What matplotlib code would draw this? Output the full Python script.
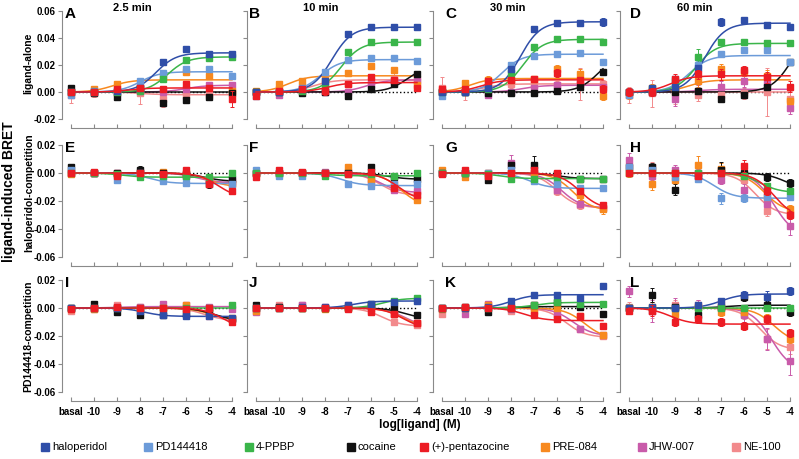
import numpy as np
import matplotlib
matplotlib.use("Agg")
import matplotlib.pyplot as plt
from matplotlib import font_manager

# font: narrow Arial-like if present
names = set(f.name for f in font_manager.fontManager.ttflist)
FAM = ['Liberation Sans Narrow'] if 'Liberation Sans Narrow' in names else ['Liberation Sans']
plt.rcParams['font.family'] = FAM + ['DejaVu Sans']

ligands = ['haloperidol', 'PD144418', '4-PPBP', 'cocaine', '(+)-pentazocine',
           'PRE-084', 'JHW-007', 'NE-100']
colors = ['#2F4EA8', '#6C9BD9', '#3AB54A', '#111111', '#EC1C24',
          '#F7891F', '#C95BAA', '#F28A8C']
xlabels = ['basal', '-10', '-9', '-8', '-7', '-6', '-5', '-4']
xpos = [-11, -10, -9, -8, -7, -6, -5, -4]
times = ['2.5 min', '10 min', '30 min', '60 min']
row_names = ['ligand-alone', 'haloperidol-competition', 'PD144418-competition']

# ---- means (rows: ligands in legend order; columns: basal,-10..-4) ----
mean_A = [[0.000, 0.000, 0.001, 0.003, 0.022, 0.032, 0.028, 0.028],
          [-0.002, 0.001, 0.001, 0.008, 0.014, 0.017, 0.017, 0.012],
          [0.000, 0.000, 0.000, 0.001, 0.010, 0.024, 0.025, 0.026],
          [0.003, -0.001, -0.004, 0.003, -0.008, -0.006, -0.004, -0.001],
          [0.000, 0.000, 0.002, 0.003, 0.002, 0.006, 0.003, -0.005],
          [0.000, 0.002, 0.006, 0.004, 0.011, 0.015, 0.012, 0.001],
          [0.001, 0.001, 0.000, 0.001, 0.000, 0.002, 0.005, 0.005],
          [-0.002, -0.001, -0.001, -0.001, -0.005, -0.002, -0.002, 0.000]]
mean_B = [[0.000, 0.000, 0.002, 0.008, 0.043, 0.048, 0.048, 0.048],
          [-0.003, 0.000, 0.003, 0.015, 0.024, 0.025, 0.025, 0.023],
          [0.000, 0.000, 0.001, 0.004, 0.030, 0.037, 0.037, 0.037],
          [0.000, 0.000, -0.001, 0.000, -0.003, 0.002, 0.006, 0.013],
          [-0.003, 0.001, 0.002, 0.001, 0.006, 0.011, 0.009, 0.003],
          [0.001, 0.006, 0.008, 0.009, 0.014, 0.019, 0.016, 0.005],
          [0.000, -0.002, 0.001, 0.000, 0.000, 0.006, 0.008, 0.008],
          [0.000, 0.002, 0.004, 0.006, 0.006, 0.008, 0.010, 0.010]]
mean_C = [[0.000, 0.000, 0.003, 0.017, 0.047, 0.051, 0.051, 0.052],
          [-0.003, 0.001, 0.004, 0.020, 0.027, 0.028, 0.029, 0.022],
          [0.000, 0.000, 0.002, 0.014, 0.033, 0.039, 0.039, 0.037],
          [0.000, 0.000, -0.001, -0.001, -0.001, 0.001, 0.004, 0.015],
          [0.002, 0.002, 0.008, 0.009, 0.010, 0.014, 0.009, 0.002],
          [0.001, 0.007, 0.009, 0.009, 0.010, 0.017, 0.013, -0.003],
          [0.000, 0.000, -0.002, 0.000, 0.003, 0.005, 0.006, 0.004],
          [0.003, 0.001, 0.005, 0.006, 0.005, 0.005, 0.006, 0.006]]
mean_D = [[0.000, 0.003, 0.004, 0.018, 0.052, 0.053, 0.050, 0.048],
          [-0.002, 0.001, 0.010, 0.020, 0.028, 0.031, 0.031, 0.022],
          [0.000, 0.002, 0.008, 0.026, 0.037, 0.037, 0.036, 0.036],
          [0.000, 0.000, 0.000, 0.001, -0.005, -0.002, 0.004, 0.022],
          [0.000, 0.000, 0.010, 0.013, 0.013, 0.016, 0.011, 0.004],
          [-0.002, 0.003, 0.003, 0.008, 0.017, 0.015, 0.012, -0.007],
          [0.000, 0.001, -0.005, 0.001, 0.004, 0.008, 0.007, -0.012],
          [-0.002, -0.001, -0.001, -0.002, -0.002, -0.001, 0.000, -0.005]]
mean_E = [None,
          [0.002, 0.000, -0.005, 0.000, -0.006, -0.007, -0.007, -0.008],
          [0.000, 0.000, -0.001, -0.003, -0.002, -0.002, -0.003, 0.000],
          [0.004, 0.000, 0.000, 0.002, 0.000, -0.001, -0.008, -0.004],
          [0.000, 0.001, -0.002, 0.000, -0.001, 0.002, -0.008, -0.013],
          [-0.001, 0.000, -0.001, 0.001, 0.001, 0.000, -0.005, -0.008],
          [0.000, 0.000, 0.000, 0.000, 0.000, -0.002, -0.005, -0.006],
          [0.000, 0.000, 0.000, 0.000, -0.001, -0.002, -0.004, -0.007]]
mean_F = [None,
          [0.002, -0.002, -0.002, 0.000, -0.008, -0.009, -0.008, -0.008],
          [0.000, 0.000, 0.000, -0.002, -0.001, -0.001, -0.002, 0.000],
          [0.000, 0.000, 0.000, 0.000, 0.000, 0.004, -0.003, -0.004],
          [-0.003, 0.002, 0.001, 0.000, -0.001, 0.001, -0.011, -0.016],
          [-0.001, -0.001, 0.000, 0.000, 0.004, -0.004, -0.008, -0.019],
          [0.000, 0.000, 0.000, 0.001, 0.001, -0.005, -0.012, -0.013],
          [0.000, 0.000, 0.000, 0.000, 0.000, -0.007, -0.011, -0.015]]
mean_G = [None,
          [0.000, 0.000, 0.000, 0.002, -0.006, -0.008, -0.011, -0.011],
          [0.000, 0.000, -0.001, -0.004, -0.004, -0.003, -0.004, -0.004],
          [0.000, 0.000, -0.005, 0.006, 0.006, -0.001, -0.004, -0.004],
          [-0.001, 0.002, -0.002, 0.000, 0.002, 0.000, -0.013, -0.023],
          [0.002, -0.003, 0.000, 0.000, 0.000, -0.007, -0.016, -0.026],
          [0.000, 0.000, 0.000, 0.007, 0.000, -0.012, -0.022, -0.025],
          [0.000, 0.000, -0.001, 0.000, 0.002, -0.013, -0.023, -0.025]]
mean_H = [None,
          [0.004, 0.002, -0.003, -0.004, -0.018, -0.018, -0.017, -0.017],
          [0.000, 0.000, 0.000, 0.000, 0.000, -0.002, -0.009, -0.013],
          [0.004, 0.004, -0.012, -0.002, 0.002, 0.000, -0.003, -0.007],
          [0.000, 0.000, 0.000, -0.002, 0.000, 0.005, -0.013, -0.030],
          [0.000, -0.008, -0.005, 0.006, 0.003, -0.002, -0.017, -0.026],
          [0.009, -0.002, 0.002, 0.000, -0.005, -0.012, -0.022, -0.038],
          [0.005, 0.004, 0.000, 0.000, 0.002, -0.005, -0.027, -0.029]]
mean_I = [[0.000, 0.000, 0.000, -0.002, -0.005, -0.006, -0.006, -0.007],
          None,
          [0.000, 0.000, 0.000, 0.000, 0.000, 0.000, 0.000, 0.002],
          [0.000, 0.003, -0.003, -0.005, -0.005, -0.004, -0.003, -0.008],
          [-0.001, 0.000, 0.001, 0.000, 0.000, -0.001, 0.000, -0.010],
          [-0.001, -0.001, 0.000, -0.001, 0.000, 0.002, -0.003, -0.007],
          [0.000, 0.000, 0.001, 0.001, 0.003, 0.002, 0.001, -0.001],
          [-0.002, -0.001, 0.002, 0.001, 0.000, 0.000, -0.006, -0.008]]
mean_J = [[0.000, 0.000, 0.001, 0.001, 0.002, 0.003, 0.004, 0.005],
          None,
          [0.000, 0.000, 0.000, 0.000, 0.000, 0.002, 0.005, 0.007],
          [0.002, 0.001, 0.000, 0.000, 0.001, 0.003, 0.000, -0.005],
          [0.000, 0.000, 0.000, 0.000, -0.001, -0.003, -0.004, -0.011],
          [-0.002, 0.000, 0.000, -0.001, 0.000, 0.002, -0.004, -0.011],
          [-0.003, 0.001, 0.002, 0.001, 0.002, 0.000, -0.004, -0.011],
          [-0.001, 0.002, 0.002, 0.000, 0.000, -0.002, -0.010, -0.012]]
mean_K = [[0.000, 0.000, 0.001, 0.005, 0.009, 0.009, 0.007, 0.016],
          None,
          [0.000, 0.000, 0.000, 0.001, 0.002, 0.004, 0.003, 0.003],
          [0.000, 0.001, -0.003, 0.000, 0.002, 0.004, 0.001, -0.004],
          [0.000, 0.001, 0.000, 0.000, -0.005, -0.008, -0.006, -0.013],
          [-0.001, 0.000, 0.002, 0.000, -0.002, 0.000, -0.006, -0.019],
          [-0.001, -0.004, 0.003, -0.001, 0.000, -0.004, -0.015, -0.019],
          [-0.004, 0.001, 0.002, -0.002, 0.002, -0.007, -0.015, -0.020]]
mean_L = [[0.000, 0.001, 0.000, 0.002, 0.005, 0.009, 0.008, 0.012],
          None,
          [0.000, 0.000, 0.000, 0.000, 0.000, 0.000, 0.000, 0.000],
          [0.000, 0.009, 0.001, -0.005, 0.001, 0.008, 0.002, -0.003],
          [-0.002, -0.002, -0.010, -0.008, -0.010, -0.013, -0.008, -0.018],
          [0.000, 0.001, -0.004, 0.001, -0.003, -0.003, -0.007, -0.022],
          [0.012, -0.002, 0.001, 0.001, 0.000, -0.005, -0.022, -0.038],
          [0.001, -0.002, 0.002, 0.002, 0.003, -0.004, -0.022, -0.028]]

# ---- error bars (same layout) ----
err_A = [[0.001, 0.001, 0.001, 0.001, 0.001, 0.002, 0.001, 0.001],
         [0.001, 0.001, 0.001, 0.001, 0.001, 0.001, 0.001, 0.001],
         [0.001, 0.001, 0.001, 0.001, 0.001, 0.001, 0.001, 0.001],
         [0.002, 0.002, 0.002, 0.001, 0.002, 0.002, 0.001, 0.001],
         [0.002, 0.001, 0.002, 0.002, 0.002, 0.002, 0.002, 0.006],
         [0.001, 0.001, 0.001, 0.001, 0.001, 0.001, 0.001, 0.001],
         [0.002, 0.001, 0.001, 0.001, 0.001, 0.001, 0.001, 0.001],
         [0.006, 0.003, 0.002, 0.008, 0.006, 0.004, 0.003, 0.004]]
err_B = [[0.001, 0.001, 0.001, 0.001, 0.002, 0.002, 0.002, 0.002],
         [0.001, 0.001, 0.001, 0.001, 0.001, 0.001, 0.001, 0.001],
         [0.001, 0.001, 0.001, 0.001, 0.001, 0.001, 0.001, 0.001],
         [0.001, 0.001, 0.001, 0.001, 0.001, 0.001, 0.001, 0.001],
         [0.002, 0.001, 0.001, 0.003, 0.002, 0.002, 0.002, 0.002],
         [0.001, 0.001, 0.001, 0.002, 0.001, 0.002, 0.002, 0.002],
         [0.001, 0.001, 0.001, 0.001, 0.001, 0.001, 0.001, 0.001],
         [0.002, 0.006, 0.003, 0.002, 0.002, 0.003, 0.004, 0.003]]
err_C = [[0.001, 0.001, 0.001, 0.002, 0.002, 0.002, 0.002, 0.003],
         [0.002, 0.001, 0.001, 0.001, 0.001, 0.001, 0.001, 0.001],
         [0.001, 0.001, 0.001, 0.001, 0.002, 0.002, 0.001, 0.001],
         [0.001, 0.001, 0.001, 0.001, 0.001, 0.001, 0.001, 0.001],
         [0.002, 0.002, 0.002, 0.002, 0.002, 0.003, 0.002, 0.003],
         [0.001, 0.002, 0.003, 0.002, 0.002, 0.003, 0.004, 0.003],
         [0.001, 0.001, 0.002, 0.001, 0.001, 0.001, 0.001, 0.001],
         [0.008, 0.007, 0.006, 0.003, 0.003, 0.003, 0.012, 0.003]]
err_D = [[0.002, 0.002, 0.002, 0.003, 0.003, 0.002, 0.002, 0.002],
         [0.002, 0.002, 0.002, 0.003, 0.002, 0.002, 0.002, 0.002],
         [0.002, 0.002, 0.002, 0.006, 0.002, 0.002, 0.002, 0.002],
         [0.002, 0.002, 0.002, 0.002, 0.002, 0.002, 0.002, 0.002],
         [0.003, 0.003, 0.003, 0.003, 0.004, 0.003, 0.004, 0.004],
         [0.003, 0.003, 0.003, 0.004, 0.004, 0.003, 0.004, 0.004],
         [0.003, 0.003, 0.005, 0.004, 0.004, 0.004, 0.004, 0.004],
         [0.006, 0.010, 0.008, 0.005, 0.004, 0.004, 0.018, 0.006]]
err_E = [None,
         [0.002, 0.001, 0.002, 0.001, 0.001, 0.001, 0.001, 0.001],
         [0.001, 0.001, 0.001, 0.001, 0.001, 0.001, 0.001, 0.001],
         [0.002, 0.001, 0.001, 0.003, 0.001, 0.001, 0.003, 0.002],
         [0.001, 0.001, 0.002, 0.001, 0.001, 0.002, 0.002, 0.001],
         [0.001, 0.001, 0.001, 0.002, 0.002, 0.001, 0.002, 0.002],
         [0.001, 0.001, 0.001, 0.001, 0.001, 0.001, 0.001, 0.001],
         [0.001, 0.001, 0.001, 0.001, 0.001, 0.001, 0.001, 0.001]]
err_F = [None,
         [0.001, 0.001, 0.001, 0.001, 0.001, 0.001, 0.001, 0.002],
         [0.001, 0.001, 0.001, 0.001, 0.001, 0.001, 0.001, 0.001],
         [0.001, 0.001, 0.001, 0.001, 0.001, 0.002, 0.001, 0.001],
         [0.002, 0.002, 0.001, 0.001, 0.001, 0.001, 0.002, 0.002],
         [0.001, 0.001, 0.001, 0.001, 0.002, 0.002, 0.002, 0.002],
         [0.001, 0.001, 0.001, 0.001, 0.001, 0.001, 0.002, 0.002],
         [0.001, 0.001, 0.001, 0.001, 0.001, 0.001, 0.002, 0.002]]
err_G = [None,
         [0.001, 0.001, 0.001, 0.002, 0.002, 0.002, 0.002, 0.002],
         [0.001, 0.001, 0.001, 0.002, 0.001, 0.001, 0.001, 0.001],
         [0.002, 0.002, 0.002, 0.003, 0.006, 0.002, 0.002, 0.002],
         [0.002, 0.002, 0.002, 0.002, 0.002, 0.002, 0.002, 0.002],
         [0.002, 0.002, 0.002, 0.002, 0.002, 0.002, 0.003, 0.003],
         [0.002, 0.002, 0.002, 0.006, 0.002, 0.003, 0.003, 0.003],
         [0.002, 0.002, 0.002, 0.002, 0.002, 0.003, 0.003, 0.003]]
err_H = [None,
         [0.002, 0.002, 0.003, 0.002, 0.004, 0.003, 0.003, 0.002],
         [0.002, 0.002, 0.002, 0.002, 0.002, 0.002, 0.002, 0.002],
         [0.003, 0.003, 0.004, 0.002, 0.006, 0.003, 0.003, 0.003],
         [0.002, 0.002, 0.002, 0.002, 0.002, 0.004, 0.003, 0.003],
         [0.003, 0.004, 0.006, 0.006, 0.004, 0.004, 0.004, 0.003],
         [0.005, 0.003, 0.004, 0.003, 0.003, 0.004, 0.005, 0.006],
         [0.004, 0.004, 0.004, 0.003, 0.003, 0.005, 0.004, 0.004]]
err_I = [[0.001, 0.001, 0.001, 0.001, 0.001, 0.001, 0.001, 0.001],
         None,
         [0.001, 0.001, 0.001, 0.001, 0.001, 0.001, 0.001, 0.001],
         [0.001, 0.001, 0.001, 0.001, 0.001, 0.001, 0.001, 0.001],
         [0.001, 0.001, 0.001, 0.001, 0.001, 0.001, 0.001, 0.001],
         [0.001, 0.001, 0.001, 0.001, 0.001, 0.002, 0.001, 0.001],
         [0.002, 0.001, 0.001, 0.001, 0.002, 0.001, 0.001, 0.002],
         [0.002, 0.002, 0.002, 0.001, 0.001, 0.001, 0.002, 0.001]]
err_J = [[0.001, 0.001, 0.001, 0.001, 0.001, 0.001, 0.001, 0.001],
         None,
         [0.001, 0.001, 0.001, 0.001, 0.001, 0.001, 0.001, 0.001],
         [0.001, 0.001, 0.001, 0.001, 0.001, 0.001, 0.001, 0.001],
         [0.001, 0.001, 0.001, 0.001, 0.001, 0.001, 0.001, 0.001],
         [0.001, 0.001, 0.001, 0.001, 0.001, 0.001, 0.001, 0.001],
         [0.001, 0.001, 0.001, 0.001, 0.001, 0.001, 0.001, 0.001],
         [0.001, 0.002, 0.002, 0.001, 0.001, 0.001, 0.001, 0.001]]
err_K = [[0.001, 0.001, 0.001, 0.002, 0.002, 0.002, 0.002, 0.002],
         None,
         [0.001, 0.001, 0.001, 0.001, 0.001, 0.001, 0.001, 0.001],
         [0.001, 0.002, 0.001, 0.001, 0.001, 0.001, 0.002, 0.002],
         [0.001, 0.002, 0.001, 0.001, 0.002, 0.002, 0.002, 0.002],
         [0.001, 0.001, 0.002, 0.001, 0.001, 0.001, 0.002, 0.002],
         [0.002, 0.002, 0.002, 0.002, 0.002, 0.002, 0.002, 0.002],
         [0.002, 0.002, 0.002, 0.002, 0.002, 0.002, 0.002, 0.002]]
err_L = [[0.002, 0.002, 0.002, 0.002, 0.002, 0.003, 0.004, 0.003],
         None,
         [0.001, 0.001, 0.001, 0.001, 0.001, 0.001, 0.001, 0.001],
         [0.003, 0.005, 0.003, 0.003, 0.003, 0.003, 0.003, 0.003],
         [0.002, 0.004, 0.003, 0.003, 0.003, 0.003, 0.003, 0.003],
         [0.002, 0.003, 0.003, 0.003, 0.003, 0.003, 0.003, 0.003],
         [0.004, 0.008, 0.006, 0.005, 0.005, 0.005, 0.008, 0.010],
         [0.003, 0.005, 0.004, 0.004, 0.004, 0.004, 0.007, 0.005]]

# ---- fitted curves: (top, logEC50), bottom 0, Hill slope 1 ----
fit_A = [(0.029, -7.3), (0.015, -8.0), (0.026, -6.8), (0.0, -7.0),
         (0.003, -8.5), (0.009, -9.2), (0.005, -6.0), (-0.002, -8.0)]
fit_B = [(0.048, -7.7), (0.024, -8.2), (0.037, -7.3), (0.020, -4.4),
         (0.007, -7.9), (0.012, -9.6), (0.009, -6.2), (0.009, -8.5)]
fit_C = [(0.052, -7.6), (0.028, -8.4), (0.039, -7.5), (0.028, -4.2),
         (0.009, -9.3), (0.010, -9.8), (0.005, -7.5), (0.006, -9.2)]
fit_D = [(0.051, -7.7), (0.027, -8.4), (0.036, -8.1), (0.045, -3.95),
         (0.012, -9.2), (0.009, -8.4), (0.002, -8.0), (0.0, -8.0)]
fit_E = [None, (-0.0075, -7.6), (-0.003, -8.8), (-0.006, -5.2),
         (-0.018, -4.6), (-0.010, -5.0), (-0.007, -5.5), (-0.008, -5.2)]
fit_F = [None, (-0.009, -7.3), (-0.002, -8.0), (-0.0045, -5.3),
         (-0.020, -4.8), (-0.024, -4.7), (-0.014, -5.6), (-0.016, -5.6)]
fit_G = [None, (-0.011, -7.2), (-0.004, -8.5), (-0.004, -6.0),
         (-0.026, -5.0), (-0.027, -5.3), (-0.025, -5.8), (-0.025, -6.0)]
fit_H = [None, (-0.018, -7.3), (-0.014, -5.3), (-0.012, -4.2),
         (-0.032, -4.7), (-0.028, -5.1), (-0.045, -4.7), (-0.030, -5.5)]
fit_I = [(-0.006, -7.8), None, (0.0, -8.0), (-0.009, -4.8),
         (-0.015, -4.4), (-0.008, -5.0), (0.001, -9.0), (-0.009, -5.2)]
fit_J = [(0.005, -6.8), None, (0.007, -5.5), (-0.008, -4.5),
         (-0.015, -4.6), (-0.014, -4.6), (-0.014, -4.5), (-0.013, -5.5)]
fit_K = [(0.0095, -8.0), None, (0.004, -7.0), (0.001, -8.0),
         (-0.009, -7.4), (-0.022, -4.8), (-0.020, -5.3), (-0.021, -5.6)]
fit_L = [(0.010, -7.0), None, (0.0, -8.0), (0.002, -6.8),
         (-0.0115, -9.2), (-0.025, -4.7), (-0.045, -4.8), (-0.030, -5.3)]

panels = [[('A', mean_A, err_A, fit_A), ('B', mean_B, err_B, fit_B),
           ('C', mean_C, err_C, fit_C), ('D', mean_D, err_D, fit_D)],
          [('E', mean_E, err_E, fit_E), ('F', mean_F, err_F, fit_F),
           ('G', mean_G, err_G, fit_G), ('H', mean_H, err_H, fit_H)],
          [('I', mean_I, err_I, fit_I), ('J', mean_J, err_J, fit_J),
           ('K', mean_K, err_K, fit_K), ('L', mean_L, err_L, fit_L)]]

W, H = 799, 459
fig = plt.figure(figsize=(W / 100, H / 100), dpi=100)

def px_axes(l, t, r, b):
    return fig.add_axes([l / W, 1 - b / H, (r - l) / W, (b - t) / H])

col_left = [62, 247, 433, 620]
row_tb = [(11, 119), (145, 257), (280, 392)]
row_ylim = [(-0.02, 0.06), (-0.06, 0.02), (-0.06, 0.02)]
row_yt = [[-0.02, 0.0, 0.02, 0.04, 0.06], [-0.06, -0.04, -0.02, 0.0, 0.02],
          [-0.06, -0.04, -0.02, 0.0, 0.02]]
letter_x = [65, 249, 445, 630]
title_x = [132, 321, 508, 695]
xlo, xhi = -11.39, -3.8
pxu = 23.0
grey = '#8a8a8a'
xfine = np.linspace(-11, -4, 200)
draw_order = [7, 6, 5, 3, 1, 2, 0, 4]

for r in range(3):
    for c in range(4):
        letter, means, errs, fits = panels[r][c]
        left = col_left[c]
        ax = px_axes(left, row_tb[r][0], left + (xhi - xlo) * pxu, row_tb[r][1])
        ax.set_xlim(xlo, xhi)
        ax.set_ylim(*row_ylim[r])
        ax.patch.set_visible(False)
        for s in ['top', 'right']:
            ax.spines[s].set_visible(False)
        ax.spines['left'].set_color(grey)
        ax.spines['bottom'].set_color(grey)
        ax.spines['bottom'].set_position(('outward', 6.5))
        ax.spines['bottom'].set_bounds(-11, -4)
        ax.set_yticks(row_yt[r])
        ax.set_xticks(xpos)
        ax.tick_params(axis='y', direction='out', length=3, color=grey,
                       labelsize=7, pad=1.5)
        ax.tick_params(axis='x', direction='in', length=3, color=grey,
                       labelsize=7, pad=4)
        if c == 0:
            ax.set_yticklabels(['%.2f' % v for v in row_yt[r]], fontweight='bold')
        else:
            ax.set_yticklabels([])
        if r == 2:
            ax.set_xticklabels(xlabels, fontweight='bold')
        else:
            ax.set_xticklabels([])
        ax.plot([-11, -4], [0, 0], color='k', ls=':', lw=1, zorder=1)

        for k in draw_order:
            if means[k] is None:
                continue
            col = colors[k]
            z = 4 if k == 4 else 3
            top, ec = fits[k]
            ax.plot(xfine, top / (1 + 10 ** (ec - xfine)), color=col, lw=1.1,
                    zorder=z)
            ax.errorbar(xpos, means[k], yerr=errs[k], fmt='s', ms=4.7,
                        color=col, mec=col, ecolor=col, elinewidth=0.7,
                        capsize=1.6, capthick=0.7, zorder=z, clip_on=False)

        fig.text(letter_x[c] / W, 1 - (row_tb[r][0] + 3) / H, letter,
                 fontsize=11, fontweight='bold', va='center', ha='left',
                 family=['Liberation Sans', 'DejaVu Sans'])
        if r == 0:
            fig.text(title_x[c] / W, 1 - 8 / H, times[c], fontsize=8,
                     fontweight='bold', ha='center', va='center')

# row labels
row_lab_x = [28, 29, 28]
row_lab_y = [63, 193, 336]
for r in range(3):
    fig.text(row_lab_x[r] / W, 1 - row_lab_y[r] / H, row_names[r], rotation=90,
             fontsize=7.5, fontweight='bold', ha='center', va='center')
fig.text(9 / W, 1 - 192 / H, 'ligand-induced BRET', rotation=90,
         fontsize=10, fontweight='bold', ha='center', va='center')
fig.text(420 / W, 1 - 425 / H, 'log[ligand] (M)', fontsize=8.5,
         fontweight='bold', ha='center', va='center')

# legend row
lax = fig.add_axes([0, 0, 1, 1])
lax.set_xlim(0, W)
lax.set_ylim(H, 0)
lax.axis('off')
leg_x = [45, 148, 249, 351, 424, 545, 642, 736]
for k in range(8):
    lax.plot(leg_x[k], 447, 's', ms=6, color=colors[k])
    lax.text(leg_x[k] + 7, 447, ligands[k], fontsize=8, va='center', ha='left')

fig.savefig('out.png', dpi=100)
